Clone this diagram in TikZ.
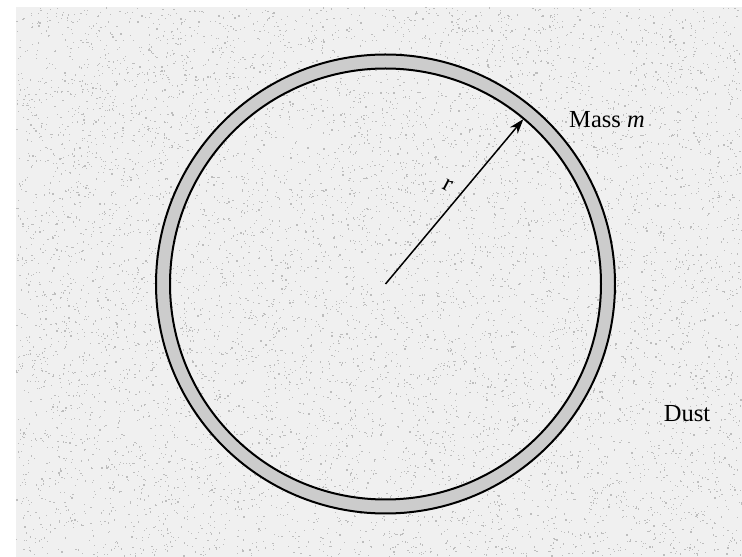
\documentclass[tikz,border=0pt]{standalone}
\usepackage{fontspec}
\setmainfont{Liberation Serif}
\usetikzlibrary{arrows.meta,calc}
\definecolor{dustbg}{gray}{0.94}
\definecolor{speck}{gray}{0.74}
\definecolor{ringfill}{gray}{0.80}
\tikzset{
  lbl/.style={font=\fontsize{24.5}{28}\selectfont, inner sep=0pt},
  ringline/.style={draw=black, line width=2pt},
  radius arrow/.style={-{Stealth[length=15pt,width=10pt]}, line width=1.5pt}
}
\begin{document}
\begin{tikzpicture}[x=1pt,y=1pt]
\useasboundingbox (0,0) rectangle (742,557);
\fill[white] (0,0) rectangle (742,557);
% dust background
\fill[dustbg] (16,0) rectangle (742,550);
\pgfmathsetseed{4242}
\foreach \i in {1,...,9000} {
  \fill[speck] ({16+rnd*725},{rnd*549}) rectangle +(1.2,1.2);
}
\coordinate (O) at (385.5,273);
% ring
\fill[ringfill, even odd rule] (O) circle (229.5) (O) circle (215.5);
\draw[ringline] (O) circle (229.5);
\draw[ringline] (O) circle (215.5);
% radius arrow
\coordinate (T) at ($(O)+(50.1:215)$);
\draw[radius arrow] (O) -- (T);
\node[lbl, rotate=-28] (r) at (448,372) {r};
\node[lbl] (mass) at (607,437) {Mass \textit{m}};
\node[lbl] (dust) at (687,143) {Dust};
\end{tikzpicture}
\end{document}
